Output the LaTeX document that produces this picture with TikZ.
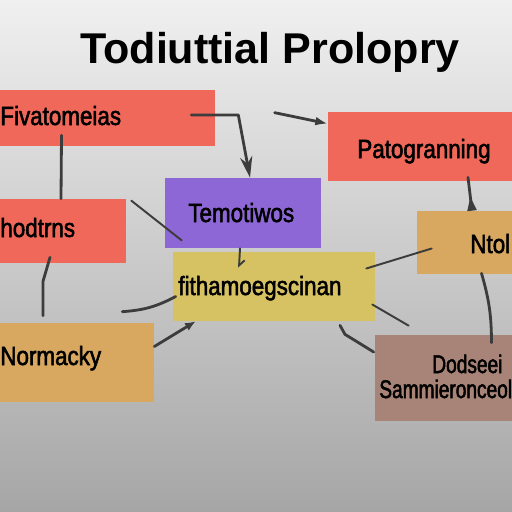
\documentclass[tikz,border=0pt]{standalone}
\usepackage{fontspec}
\setmainfont{Liberation Sans}
\newfontfamily\boxfont[FakeStretch=0.85,FakeBold=2]{Liberation Sans}
\newfontfamily\narrowfont[FakeStretch=0.75,FakeBold=2]{Liberation Sans}
\usepackage{xcolor}
\usepackage{tikz}
\usetikzlibrary{arrows.meta,positioning,calc}

\definecolor{redbox}{RGB}{240,104,90}
\definecolor{purplebox}{RGB}{142,103,214}
\definecolor{yellowbox}{RGB}{214,194,98}
\definecolor{orangebox}{RGB}{216,167,96}
\definecolor{brownbox}{RGB}{168,132,120}
\definecolor{linkgray}{RGB}{60,60,60}

\tikzset{
  card/.style={rectangle, draw=none, inner sep=0pt},
  cardtext/.style={anchor=base west, inner sep=0pt, font=\boxfont\fontsize{15}{17}\selectfont},
  link/.style={linkgray, line width=1.6pt, line cap=round, line join=round},
  thinlink/.style={linkgray, line width=1.1pt, line cap=round},
}

\begin{document}
\begin{tikzpicture}[x=0.02cm, y=-0.02cm]
  % Canvas and background
  \useasboundingbox (0,0) rectangle (512,512);
  \clip (0,0) rectangle (512,512);
  \shade[top color=gray!12, bottom color=gray!70] (0,0) rectangle (512,512);

  % Title
  \node[anchor=base, font=\bfseries\fontsize{24.5}{28}\selectfont, inner sep=0pt] (title) at (270,63) {Todiuttial Prolopry};

  % Cards
  \node[card, fill=redbox, minimum width=4.5cm, minimum height=1.12cm] (fiv) at (102.5,118) {};
  \node[card, fill=redbox, minimum width=3.88cm, minimum height=1.38cm] (pat) at (425,146.5) {};
  \node[card, fill=purplebox, minimum width=3.12cm, minimum height=1.4cm] (tem) at (243,213) {};
  \node[card, fill=redbox, minimum width=2.72cm, minimum height=1.28cm] (hod) at (58,231) {};
  \node[card, fill=orangebox, minimum width=2.1cm, minimum height=1.26cm] (ntol) at (469.5,242.5) {};
  \node[card, fill=yellowbox, minimum width=4.04cm, minimum height=1.38cm] (fith) at (274,286.5) {};
  \node[card, fill=orangebox, minimum width=3.28cm, minimum height=1.58cm] (nor) at (72,362.5) {};
  \node[card, fill=brownbox, minimum width=2.94cm, minimum height=1.72cm] (dod) at (448.5,378) {};

  % Card texts
  \node[cardtext] (fiv-t) at (0,125) {Fivatomeias};
  \node[cardtext] (pat-t) at (357,158) {Patogranning};
  \node[cardtext] (tem-t) at (188,222) {Temotiwos};
  \node[cardtext] (hod-t) at (0,237) {hodtrns};
  \node[cardtext] (ntol-t) at (470,253) {Ntol};
  \node[cardtext] (fith-t) at (178,295) {fithamoegscinan};
  \node[cardtext] (nor-t) at (0,365) {Normacky};
  \node[cardtext, font=\narrowfont\fontsize{14.5}{16}\selectfont] (dod-t1) at (432,373) {Dodseei};
  \node[cardtext, font=\narrowfont\fontsize{14.5}{16}\selectfont] (dod-t2) at (379,398) {Sammieronceol};

  % Connectors
  \draw[link, -{Stealth[length=12pt, width=7pt]}] ($(fiv.east)+(-24,-3)$) -- ($(fiv.east)+(23,-3)$) -- ($(tem.north)+(7,0)$);
  \draw[link, -{Latex[length=7pt, width=5pt]}] ($(pat.north west)+(-53,1)$) -- ($(pat.north west)+(0,12)$);
  \draw[link] ($(fiv.south)+(-41,-11)$) -- ($(hod.north)+(3,0)$);
  \draw[thinlink] ($(hod.north east)+(5,2)$) -- ($(tem.south west)+(17,-8)$);
  \draw[thinlink, -{Straight Barb[left, length=3pt]}] ($(tem.south)+(-3,0)$) -- ($(fith.north)+(-35,16)$);
  \draw[link] ($(hod.south)+(-8,-6)$) -- ($(hod.south)+(-15,18)$) -- ($(nor.north)+(-29,-7)$);
  \draw[link] ($(nor.north east)+(-32,-11)$) to[bend right=12] ($(fith.west)+(3,10)$);
  \draw[link, -{Latex[length=6pt, width=5pt]}] ($(nor.east)+(0,-16)$) -- ($(fith.south west)+(23,0)$);
  \draw[thinlink] ($(fith.east)+(-9,-18)$) -- ($(ntol.west)+(15,6)$);
  \draw[thinlink] ($(fith.east)+(-3,18)$) -- ($(dod.north west)+(34,-9)$);
  \draw[link] ($(fith.south)+(66,4)$) -- ($(fith.south)+(71,13)$) -- ($(dod.west)+(-1,-26)$);
  \draw[link, -{Triangle[reversed, length=8pt, width=5pt]}] ($(pat.south)+(43,-4)$) -- ($(ntol.north)+(2.5,0)$);
  \draw[link] ($(ntol.south)+(12,-1)$) to[bend left=8] ($(dod.north)+(43,8)$);
\end{tikzpicture}
\end{document}
